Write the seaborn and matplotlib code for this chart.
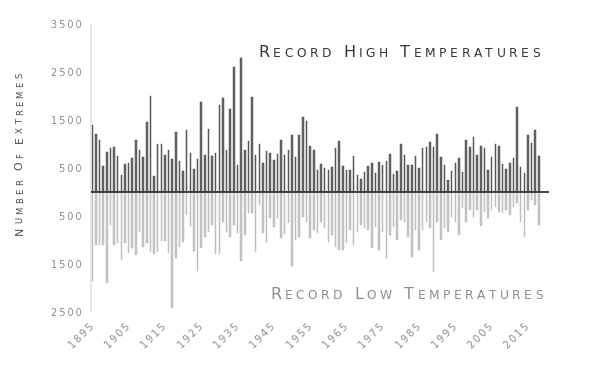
import matplotlib
matplotlib.use("Agg")
import matplotlib.pyplot as plt
import pandas as pd
import seaborn as sns

# record extremes per year, 1895-2018
years = list(range(1895, 2019))
highs = [
    1392, 1204, 1079, 543, 835,
    926, 947, 760, 363, 593, 605, 718, 1085, 870, 739,
    1448, 1991, 328, 1010, 1010, 780, 885, 697, 1240, 647,
    432, 1288, 822, 488, 689, 1878, 766, 1309, 751, 814,
    1816, 1956, 885, 1720, 2609, 572, 2797, 870, 1058, 1976,
    766, 1010, 605, 849, 822, 662, 801, 1079, 780, 870,
    1183, 730, 1183, 1565, 1482, 960, 870, 453, 593, 501,
    453, 522, 918, 1058, 543, 453, 467, 751, 363, 271,
    417, 543, 605, 405, 626, 557, 641, 787, 376, 447,
    1010, 766, 572, 572, 751, 501, 918, 939, 1044, 939,
    1204, 730, 572, 244, 432, 605, 710, 417, 1079, 939,
    1148, 780, 960, 918, 453, 730, 996, 954, 593, 480,
    614, 710, 1768, 522, 397, 1190, 1031, 1288, 751,
]
lows = [
    1857, 1106, 1106, 1106, 1905,
    688, 1106, 1071, 1419, 1071, 1266, 1176, 1315, 828, 1141,
    1071, 1245, 1301, 1259, 1022, 1022, 1280, 2413, 1384, 1141,
    1036, 480, 703, 1231, 1648, 1162, 932, 828, 688, 1301,
    1301, 619, 828, 932, 688, 862, 1440, 897, 445, 445,
    1245, 271, 862, 1036, 549, 723, 549, 953, 884, 654,
    1537, 1001, 932, 514, 619, 967, 793, 862, 619, 758,
    1036, 897, 1141, 1210, 1210, 1071, 793, 1106, 828, 688,
    758, 793, 1176, 723, 1210, 828, 1384, 897, 738, 1001,
    584, 619, 932, 1349, 793, 1210, 793, 619, 758, 1662,
    619, 1001, 758, 828, 514, 619, 897, 340, 619, 375,
    514, 375, 703, 410, 549, 375, 306, 410, 445, 375,
    480, 306, 236, 619, 932, 375, 167, 271, 688,
]
ytick_vals = [3500, 2500, 1500, 500, -500, -1500, -2500]
xtick_years = list(range(1895, 2016, 10))

df = pd.DataFrame({"year": years, "high": highs, "low": [-v for v in lows]})

sns.set_style("white")
plt.rcParams["font.family"] = ["DejaVu Sans"]

W, H = 589, 374
fig = plt.figure(figsize=(W / 100, H / 100), dpi=100)
ax = fig.add_axes([91 / W, 62 / H, (549 - 91) / W, 288 / H])

# categorical bars: one slot per year
sns.barplot(data=df, x="year", y="high", order=years, width=0.42,
            color="#6a6a6a", edgecolor="#3c3c3c", linewidth=0.3,
            saturation=1, errorbar=None, ax=ax)
sns.barplot(data=df, x="year", y="low", order=years, width=0.42,
            color="#c6c6c6", edgecolor="#b6b6b6", linewidth=0.3,
            saturation=1, errorbar=None, ax=ax)
ax.axhline(0, color="#333333", lw=1.3, zorder=5)

ax.set_xlim(-0.36, 125.8)
ax.set_ylim(-2500, 3500)
ax.set_xlabel("")
ax.set_ylabel("")
for s in ["top", "right", "bottom"]:
    ax.spines[s].set_visible(False)
ax.spines["left"].set_color("#e2e2e2")
ax.spines["left"].set_linewidth(1.2)

thin = "\u2009"
ax.set_yticks(ytick_vals, [thin.join(str(abs(v))) for v in ytick_vals])
ax.tick_params(axis="y", length=3, width=1, color="#e2e2e2",
               labelcolor="#8a8a8a", labelsize=7, pad=4)

# year labels, rotated 45 deg, right end just under the bar
ax.set_xticks([])
for y in xtick_years:
    ax.text(years.index(y) + 1.0, -0.035, thin.join(str(y)),
            transform=ax.get_xaxis_transform(), rotation=45,
            ha="right", va="top", fontsize=7, color="#8a8a8a")


def caps_text(text, cx, cy, big, small, color, span, gap=5, vertical=False):
    # fake small caps: first letter of each word bigger, spread over span px
    rend = fig.canvas.get_renderer()
    items = []
    for word in text.split():
        for k, ch in enumerate(word):
            items.append((ch.upper(), big if k == 0 else small))
        items.append((None, 0))
    items.pop()
    widths = []
    for ch, size in items:
        if ch is None:
            widths.append(gap)
            continue
        t = fig.text(0, 0, ch, fontsize=size)
        widths.append(t.get_window_extent(rend).width)
        t.remove()
    track = (span - sum(widths)) / (len(items) - 1)
    pos = -span / 2
    for (ch, size), w in zip(items, widths):
        if ch is not None:
            if vertical:
                fig.text(cx / W, (cy + pos) / H, ch, fontsize=size, color=color,
                         rotation=90, rotation_mode="anchor",
                         ha="left", va="baseline")
            else:
                fig.text((cx + pos) / W, cy / H, ch, fontsize=size, color=color,
                         ha="left", va="baseline")
        pos += w + track


caps_text("Record High Temperatures", 399, H - 57.3, 11.5, 8.8, "#333333", 282)
caps_text("Record Low Temperatures", 406.5, H - 299, 11.5, 8.8, "#8c8c8c", 273)
caps_text("Number of Extremes", 22.7, H - 154, 7.8, 6.0, "#4a4a4a", 162,
          gap=3, vertical=True)

fig.savefig("out.png", dpi=100)
